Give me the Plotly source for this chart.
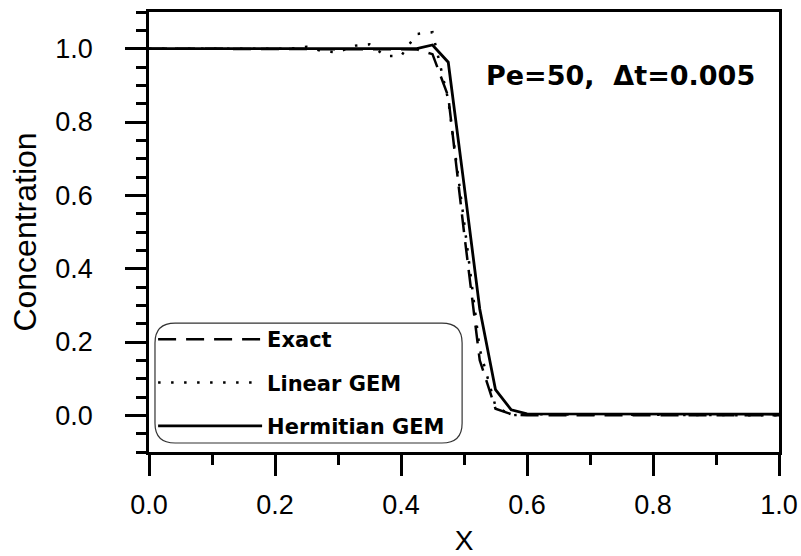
import plotly.graph_objects as go

# ---- data ----
x_exact = [0.0, 0.4, 0.425, 0.45, 0.475, 0.5, 0.525, 0.55, 0.575, 0.6, 1.0]
c_exact = [1.0, 1.0, 0.998, 0.985, 0.87, 0.5, 0.15, 0.018, 0.003, 0.0, 0.0]

x_linear = [0.0, 0.225, 0.25, 0.275, 0.3, 0.325, 0.35, 0.375, 0.4, 0.425,
            0.45, 0.475, 0.5, 0.525, 0.55, 0.575, 0.6, 1.0]
c_linear = [1.0, 1.0, 1.005, 0.993, 0.99, 1.008, 1.012, 0.98, 0.98, 1.04,
            1.045, 0.86, 0.53, 0.18, 0.025, 0.0, 0.003, 0.0]

x_herm = [0.0, 0.425, 0.45, 0.475, 0.5, 0.525, 0.55, 0.575, 0.6, 1.0]
c_herm = [1.0, 1.0, 1.01, 0.963, 0.63, 0.29, 0.07, 0.015, 0.004, 0.003]

series_names = ["Exact", "Linear GEM", "Hermitian GEM"]
annotation_text = "Pe=50,  \u0394t=0.005"

REG = "Liberation Sans, Arial, Helvetica, sans-serif"
BOLD = "DejaVu Sans, Arial, sans-serif"

fig = go.Figure()
fig.add_trace(go.Scatter(x=x_exact, y=c_exact, mode="lines", name=series_names[0],
                         legendgroup="a",
                         line=dict(color="black", width=2.5, dash="18px,10px")))
fig.add_trace(go.Scatter(x=x_linear, y=c_linear, mode="lines", name=series_names[1],
                         legendgroup="b",
                         line=dict(color="black", width=2.5, dash="2.5px,10.5px")))
fig.add_trace(go.Scatter(x=x_herm, y=c_herm, mode="lines", name=series_names[2],
                         legendgroup="c",
                         line=dict(color="black", width=2.8)))

# rounded legend frame (paper coordinates)
x0, x1, y0, y1 = 0.0095, 0.497, 0.0205, 0.293
rx, ry = 0.032, 0.045
path = (f"M {x0+rx},{y0} L {x1-rx},{y0} Q {x1},{y0} {x1},{y0+ry} "
        f"L {x1},{y1-ry} Q {x1},{y1} {x1-rx},{y1} L {x0+rx},{y1} "
        f"Q {x0},{y1} {x0},{y1-ry} L {x0},{y0+ry} Q {x0},{y0} {x0+rx},{y0} Z")

axis_common = dict(
    showline=True, linecolor="black", linewidth=2.5, mirror=True,
    ticks="outside", ticklen=21, tickwidth=2.5, tickcolor="black",
    showgrid=False, zeroline=False, automargin=False,
    tickfont=dict(family=REG, size=27, color="black"),
    tickformat=".1f",
)

fig.update_layout(
    width=801, height=556,
    margin=dict(l=149, r=22, t=12, b=104, autoexpand=False),
    paper_bgcolor="white", plot_bgcolor="white",
    showlegend=True,
    legend=dict(x=0.0065, y=0.302, xanchor="left", yanchor="top",
                bgcolor="rgba(0,0,0,0)", borderwidth=0,
                font=dict(family=BOLD, size=21, color="black", weight="bold"),
                tracegroupgap=13, itemwidth=104),
    xaxis=dict(range=[0, 1], dtick=0.2, tick0=0,
               minor=dict(dtick=0.1, ticks="outside", ticklen=10, tickwidth=2.5, tickcolor="black"),
               title=dict(text="X", font=dict(family=REG, size=28, color="black"), standoff=27),
               ticklabelstandoff=6,
               **axis_common),
    yaxis=dict(range=[-0.1, 1.1], dtick=0.2, tick0=0,
               minor=dict(dtick=0.05, ticks="outside", ticklen=10, tickwidth=2.5, tickcolor="black"),
               title=dict(text="Concentration", font=dict(family=REG, size=32, color="black"), standoff=10),
               ticklabelstandoff=27,
               **axis_common),
    shapes=[dict(type="path", xref="paper", yref="paper", path=path,
                 line=dict(color="#333333", width=1.2), fillcolor="rgba(0,0,0,0)")],
    annotations=[dict(text=annotation_text, xref="paper", yref="paper",
                      x=0.748, y=0.855, xanchor="center", yanchor="middle",
                      showarrow=False,
                      font=dict(family=BOLD, size=27, color="black", weight="bold"))],
)

fig.write_html("out.html", config={"displayModeBar": False},
               post_script="document.body.style.margin='0px';document.body.style.padding='0px';")
